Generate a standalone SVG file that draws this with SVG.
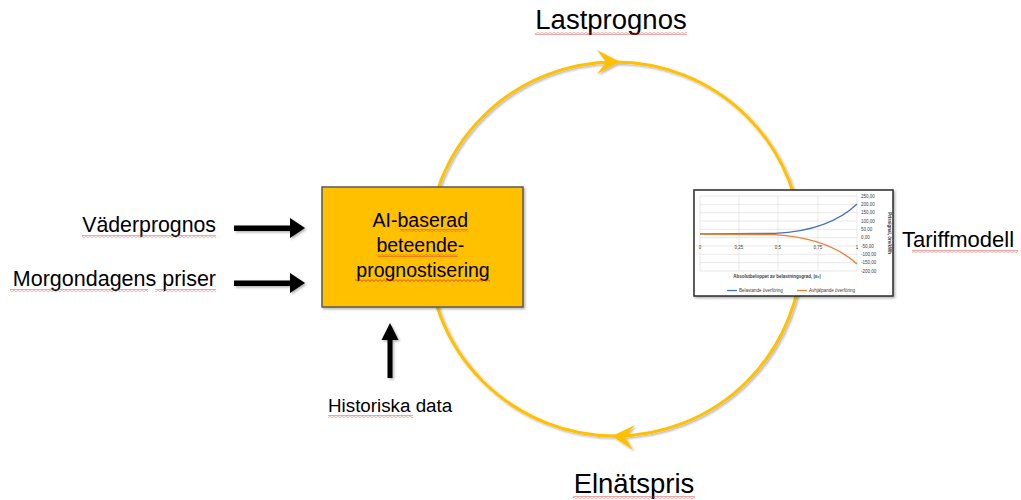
<svg xmlns="http://www.w3.org/2000/svg" width="1021" height="500" viewBox="0 0 1021 500">
<style>
.t{font-family:"Liberation Sans",Arial,sans-serif;fill:#000}
.sm{font-family:"Liberation Sans",Arial,sans-serif;fill:#404040;font-size:4.5px}
.grid{stroke:#d9d9d9;stroke-width:0.6;fill:none}
.ring{fill:none;stroke:#FFC000;stroke-width:3}
.blk{fill:#000}
.sq{fill:url(#squig)}
</style>
<defs>
<filter id="sh" x="-20%" y="-20%" width="140%" height="140%">
<feDropShadow dx="1.5" dy="1.5" stdDeviation="1.2" flood-color="#000" flood-opacity="0.3"/>
</filter>
<pattern id="squig" width="4" height="3" patternUnits="userSpaceOnUse">
<path d="M0,0.6 L2,2.4 L4,0.6" fill="none" stroke="#e03030" stroke-width="0.8"/>
</pattern>
</defs>

<g id="connectors">
<g filter="url(#sh)">
<circle class="ring" cx="615" cy="249" r="187"/>
<path d="M620,62 L597,50 L606,62 L597,74 Z" fill="#FFC000"/>
<path d="M612,436 L635,425 L625,437 L633,450 Z" fill="#FFC000"/>
</g>
<g filter="url(#sh)">
<rect class="blk" x="234" y="225.5" width="58" height="5.5"/>
<path class="blk" d="M290,218 L305,228 L290,238 Z"/>
<rect class="blk" x="234" y="280.5" width="58" height="5.5"/>
<path class="blk" d="M290,273 L305,283 L290,293 Z"/>
<rect class="blk" x="387.5" y="338" width="5" height="40"/>
<path class="blk" d="M390,323 L398.5,340 L381.5,340 Z"/>
</g>
</g>

<g id="node-lastprognos">
<text class="t" x="611" y="29" font-size="27.5" text-anchor="middle">Lastprognos</text>
<rect class="sq" x="535" y="32" width="152" height="3"/>
</g>

<g id="node-elnatspris">
<text class="t" x="634" y="493" font-size="27.5" text-anchor="middle">Elnätspris</text>
<rect class="sq" x="573" y="496" width="122" height="3"/>
</g>

<g id="node-ai">
<rect x="322" y="187" width="201" height="120" fill="#FFC000" stroke="#5a5a5a" stroke-width="1.5" filter="url(#sh)"/>
<text class="t" font-size="19.5" text-anchor="middle">
<tspan x="423" y="227">AI-baserad</tspan>
<tspan x="423" y="252">beteende-</tspan>
<tspan x="423" y="277">prognostisering</tspan>
</text>
<rect class="sq" x="400" y="229" width="68" height="3"/>
<rect class="sq" x="378" y="254" width="80" height="3"/>
<rect class="sq" x="355" y="279" width="135" height="3"/>
</g>

<g id="node-vader">
<text class="t" x="216" y="232" font-size="21.3" text-anchor="end">Väderprognos</text>
<rect class="sq" x="82" y="235" width="134" height="3"/>
</g>

<g id="node-morgondagens">
<text class="t" x="216" y="286" font-size="21.5" text-anchor="end">Morgondagens priser</text>
<rect class="sq" x="10" y="289" width="138" height="3"/>
<rect class="sq" x="155" y="289" width="61" height="3"/>
</g>

<g id="node-historiska">
<text class="t" x="328" y="412" font-size="18.8">Historiska data</text>
<rect class="sq" x="328" y="415" width="85" height="3"/>
</g>

<g id="node-tariffmodell">
<rect x="694" y="190" width="199" height="106" fill="#fff" stroke="#2a2a2a" stroke-width="1.5" filter="url(#sh)"/>
<g class="grid">
<path d="M700,196H857M700,204.3H857M700,212.7H857M700,221H857M700,229.3H857M700,237.7H857M700,246H857M700,254.3H857M700,262.7H857M700,271H857"/>
<path d="M700,196V271M739,196V271M778,196V271M818,196V271M857,196V271"/>
</g>
<path d="M700,234 L775,233.4 C805,232 835,225 857,204" fill="none" stroke="#4472C4" stroke-width="1.3"/>
<path d="M700,234 L775,234.6 C805,236.5 835,244 857,264" fill="none" stroke="#ED7D31" stroke-width="1.3"/>
<g class="sm" text-anchor="middle">
<text x="700" y="249">0</text>
<text x="739" y="249">0,25</text>
<text x="778" y="249">0,5</text>
<text x="818" y="249">0,75</text>
<text x="857" y="249">1</text>
</g>
<g class="sm">
<text x="861" y="197.5">250,00</text>
<text x="861" y="205.8">200,00</text>
<text x="861" y="214.2">150,00</text>
<text x="861" y="222.5">100,00</text>
<text x="861" y="230.8">50,00</text>
<text x="861" y="239.2">0,00</text>
<text x="861" y="247.5">-50,00</text>
<text x="861" y="255.8">-100,00</text>
<text x="861" y="264.2">-150,00</text>
<text x="861" y="272.5">-200,00</text>
</g>
<text class="sm" x="0" y="0" font-weight="bold" text-anchor="middle" transform="translate(888,233) rotate(90)">Prissignal, öre/kWh</text>
<text class="sm" x="777" y="278" font-weight="bold" text-anchor="middle">Absolutbeloppet av belastningsgrad, |x₀|</text>
<path d="M727,290.5H737" stroke="#4472C4" stroke-width="1.3"/>
<text class="sm" x="739" y="292">Belastande överföring</text>
<path d="M797,290.5H807" stroke="#ED7D31" stroke-width="1.3"/>
<text class="sm" x="809" y="292">Avhjälpande överföring</text>
<text class="t" x="902" y="247" font-size="22">Tariffmodell</text>
<rect class="sq" x="912" y="250" width="106" height="3"/>
</g>
</svg>
